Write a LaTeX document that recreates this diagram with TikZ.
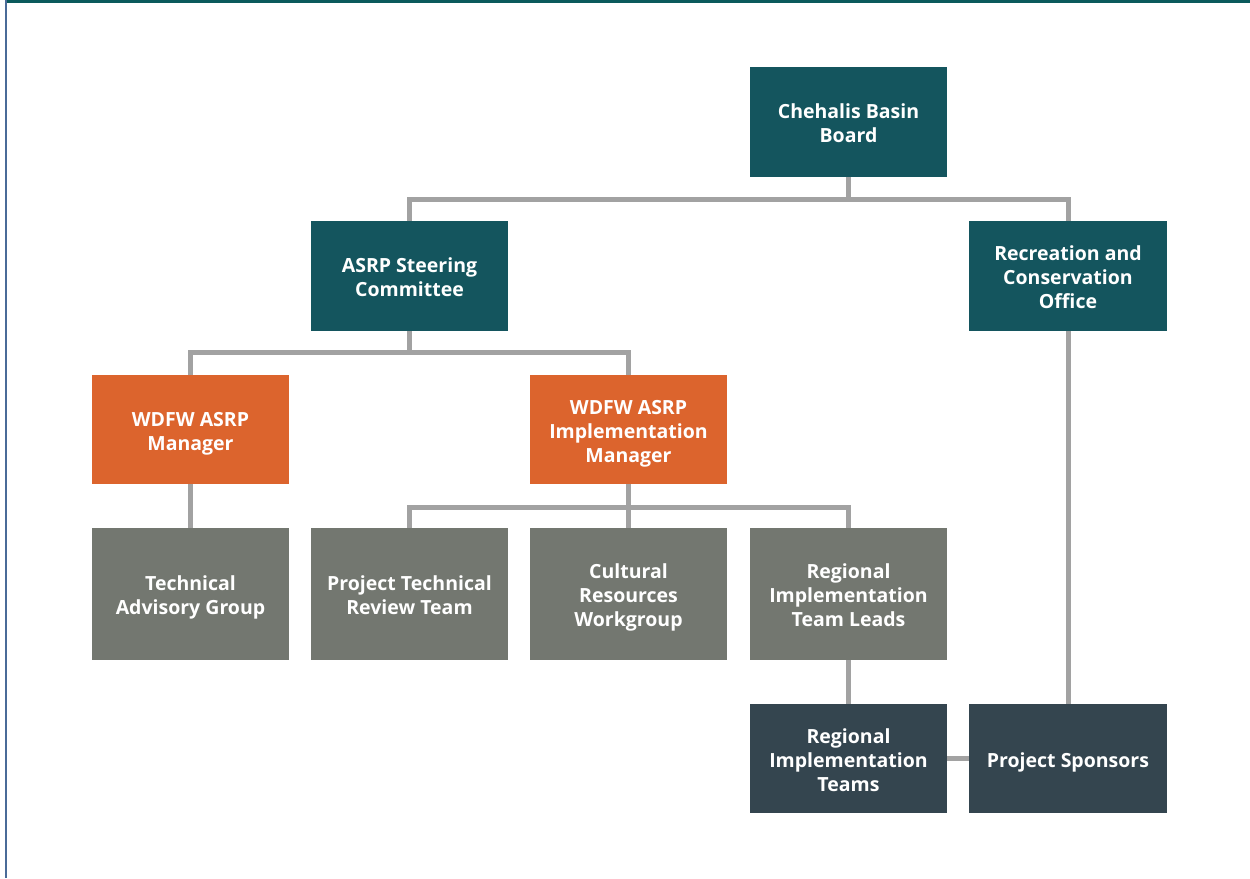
\documentclass[tikz,border=0pt]{standalone}
\usepackage{fontspec}
\setmainfont{Open Sans}
\newcommand\hstrut{\rule{0pt}{24pt}}
\newcommand\dstrut{\rule[-7pt]{0pt}{7pt}}
\begin{document}
\begin{tikzpicture}[x=1pt,y=-1pt,
  box/.style={minimum width=197pt,inner sep=0pt,outer sep=0pt,align=center,text=white,
    font=\fontsize{19.5}{24}\selectfont\bfseries},
  teal/.style={box,fill=cteal,minimum height=110pt},
  orng/.style={box,fill=corange,minimum height=109pt},
  grey/.style={box,fill=cgrey,minimum height=132pt},
  slate/.style={box,fill=cslate,minimum height=109pt},
  link/.style={draw=cline,line width=5pt,line join=miter}]
\definecolor{cteal}{HTML}{14555E}
\definecolor{corange}{HTML}{DC642D}
\definecolor{cgrey}{HTML}{737770}
\definecolor{cslate}{HTML}{34454F}
\definecolor{cline}{HTML}{A2A2A2}
\definecolor{ctop}{HTML}{0B5A5C}
\definecolor{cleft}{HTML}{4A6B98}
\useasboundingbox (0,0) rectangle (1250,878);
\fill[ctop] (6,0) rectangle (1250,2.5);
\fill[cleft] (5,0) rectangle (7.3,878);
% nodes
\node[teal] (board) at (848.5,122) {\hstrut Chehalis Basin\\Board\dstrut};
\node[teal] (steer) at (409.5,276) {\hstrut ASRP Steering\\Committee\dstrut};
\node[teal,minimum width=198pt] (rco) at (1068,276) {\hstrut Recreation and\\Conservation\\Office\dstrut};
\node[orng] (mgr) at (190.5,429.5) {\hstrut WDFW ASRP\\Manager\dstrut};
\node[orng] (impl) at (628.5,429.5) {\hstrut WDFW ASRP\\Implementation\\Manager\dstrut};
\node[grey] (tag) at (190.5,594) {\hstrut Technical\\Advisory Group\dstrut};
\node[grey] (ptrt) at (409.5,594) {\hstrut Project Technical\\Review Team\dstrut};
\node[grey] (crw) at (628.5,594) {\hstrut Cultural\\Resources\\Workgroup\dstrut};
\node[grey] (ritl) at (848.5,594) {\hstrut Regional\\Implementation\\Team Leads\dstrut};
\node[slate] (rit) at (848.5,758.5) {\hstrut Regional\\Implementation\\Teams\dstrut};
\node[slate,minimum width=198pt] (ps) at (1068,758.5) {\hstrut Project Sponsors\dstrut};
% connectors
\begin{scope}[on background layer/.try]
\draw[link] (board.south) -- ++(0,22) coordinate (bj);
\draw[link] (steer.north) |- (bj) -| (rco.north);
\draw[link] (steer.south) -- ++(0,21) coordinate (sj);
\draw[link] (mgr.north) |- (sj) -| (impl.north);
\draw[link] (mgr.south) -- (tag.north);
\draw[link] (impl.south) -- ++(0,23.5) coordinate (ij);
\draw[link] (ptrt.north) |- (ij) -| (ritl.north);
\draw[link] (ij) -- (crw.north);
\draw[link] (ritl.south) -- (rit.north);
\draw[link] (rit.east) -- (ps.west);
\draw[link] (rco.south) -- (ps.north);
\end{scope}
\end{tikzpicture}
\end{document}
